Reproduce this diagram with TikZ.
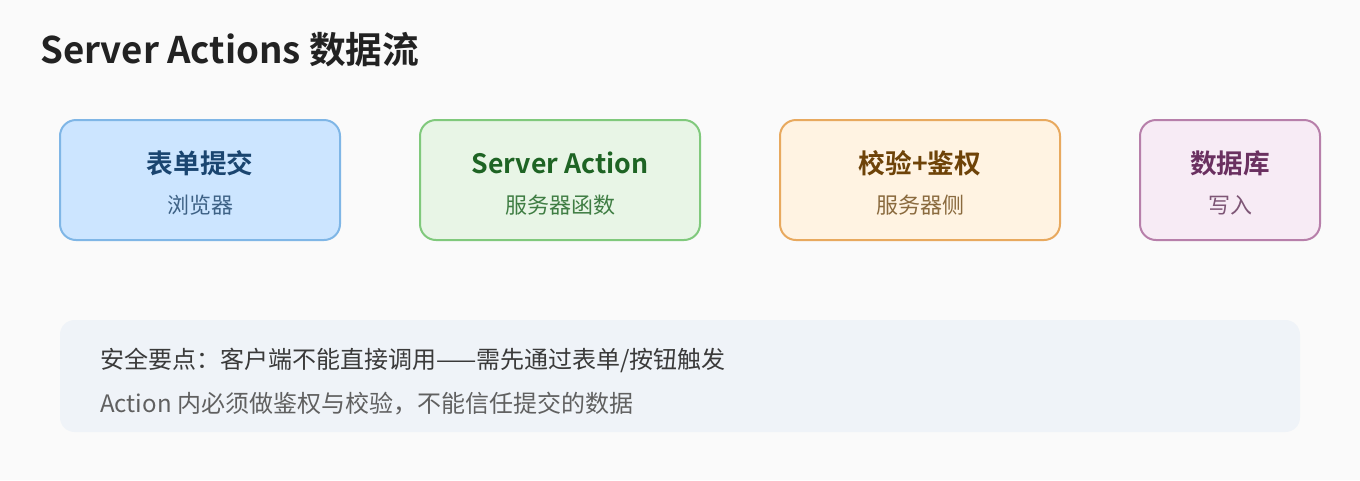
\documentclass[tikz,border=0pt]{standalone}
\usepackage{fontspec}
\setmainfont{Noto Sans CJK SC}[BoldFont={Noto Sans CJK SC Bold}]
\definecolor{bgc}{HTML}{FAFAFA}
\definecolor{titc}{HTML}{222222}
\definecolor{af}{HTML}{CCE5FF}\definecolor{ad}{HTML}{7FB6E6}\definecolor{at}{HTML}{1A4570}\definecolor{as}{HTML}{3E6286}
\definecolor{bf}{HTML}{E8F5E6}\definecolor{bd}{HTML}{80C97C}\definecolor{bt}{HTML}{1E6424}\definecolor{bs}{HTML}{3F7D43}
\definecolor{cf}{HTML}{FFF3E2}\definecolor{cd}{HTML}{E8A95E}\definecolor{ct}{HTML}{6E4308}\definecolor{cs}{HTML}{8A6A3E}
\definecolor{df}{HTML}{F7EBF5}\definecolor{dd}{HTML}{B77FAA}\definecolor{dt}{HTML}{6A3060}\definecolor{ds}{HTML}{7E5676}
\definecolor{pf}{HTML}{EFF3F8}\definecolor{p1}{HTML}{3A3A3A}\definecolor{p2}{HTML}{606060}
\begin{document}
\begin{tikzpicture}[x=0.75pt,y=-0.75pt,
  flowbox/.style={draw,line width=1.5pt,rounded corners=12pt,inner sep=0pt},
  boxtitle/.style={font=\bfseries\fontsize{20pt}{24pt}\selectfont,anchor=center},
  boxsub/.style={font=\fontsize{16.5pt}{20pt}\selectfont,anchor=center},
  paneltext/.style={font=\fontsize{18pt}{22pt}\selectfont,anchor=west,inner sep=0pt}]
\fill[bgc] (0,0) rectangle (1360,480);
\useasboundingbox (0,0) rectangle (1360,480);
\node[anchor=west,inner sep=0pt,text=titc,font=\bfseries\fontsize{27.5pt}{32pt}\selectfont] (title) at (40,50) {Server Actions 数据流};
% boxes
\draw[flowbox,fill=af,draw=ad] (60,120) rectangle (340,240);
\node[boxtitle,text=at] (t1) at (200,163) {表单提交};
\node[boxsub,text=as] (s1) at (200,205) {浏览器};
\draw[flowbox,fill=bf,draw=bd] (420,120) rectangle (700,240);
\node[boxtitle,text=bt] (t2) at (560,163) {Server Action};
\node[boxsub,text=bs] (s2) at (560,205) {服务器函数};
\draw[flowbox,fill=cf,draw=cd] (780,120) rectangle (1060,240);
\node[boxtitle,text=ct] (t3) at (920,163) {校验+鉴权};
\node[boxsub,text=cs] (s3) at (920,205) {服务器侧};
\draw[flowbox,fill=df,draw=dd] (1140,120) rectangle (1320,240);
\node[boxtitle,text=dt] (t4) at (1230,163) {数据库};
\node[boxsub,text=ds] (s4) at (1230,205) {写入};
% panel
\fill[pf,rounded corners=11pt] (60,320) rectangle (1300,432);
\node[paneltext,text=p1] (l1) at (100,360) {安全要点：客户端不能直接调用——需先通过表单/按钮触发};
\node[paneltext,text=p2] (l2) at (100,404) {Action 内必须做鉴权与校验，不能信任提交的数据};
\end{tikzpicture}
\end{document}
